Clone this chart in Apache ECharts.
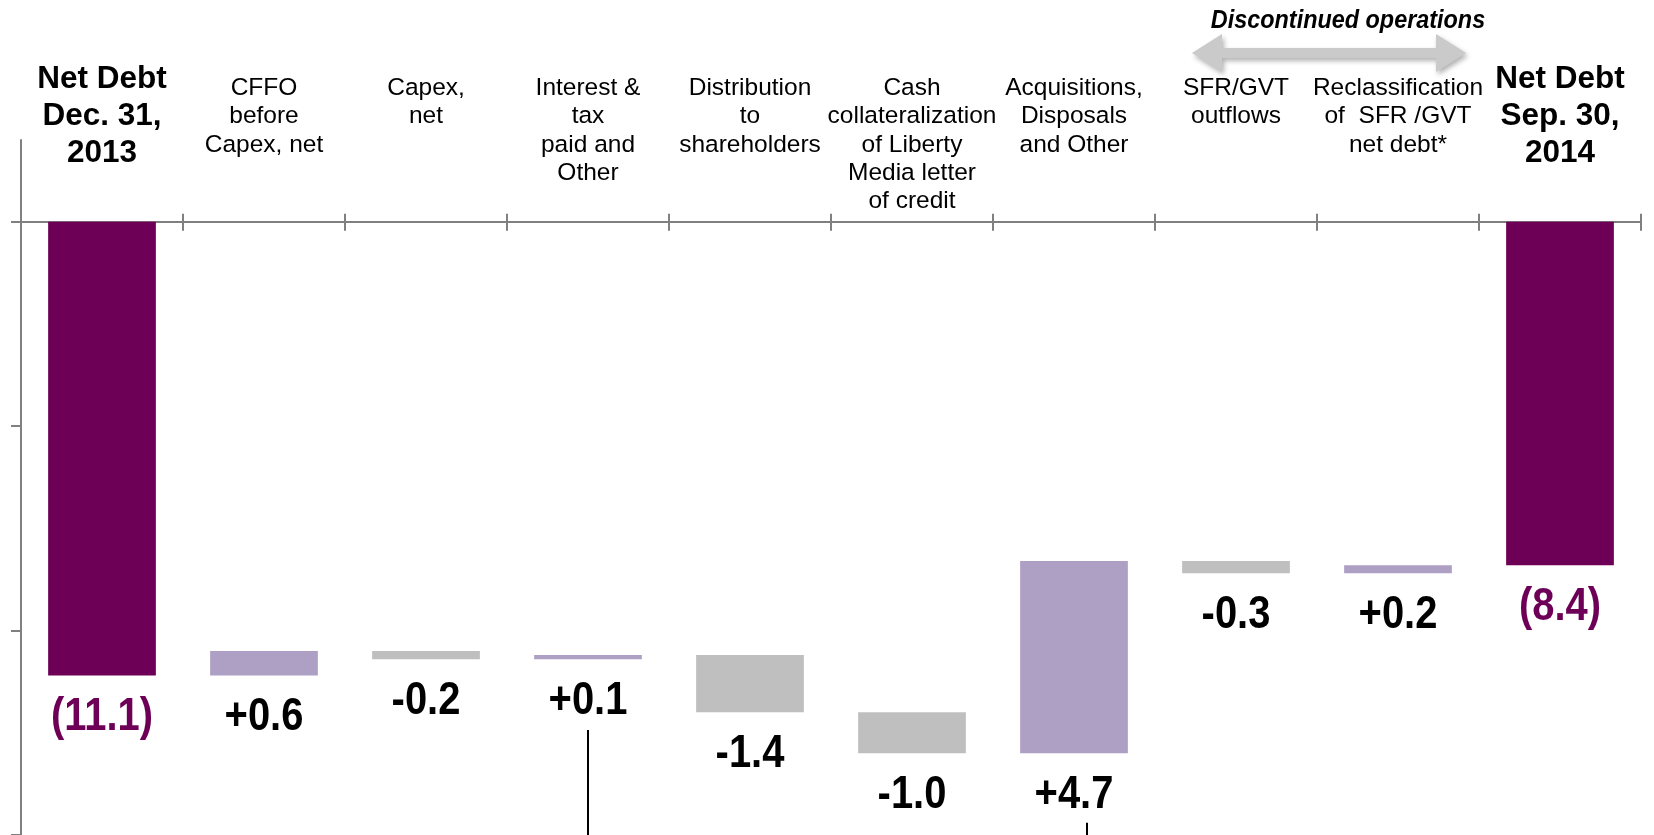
<!DOCTYPE html>
<html><head><meta charset="utf-8">
<script src="https://cdn.jsdelivr.net/npm/echarts@6/dist/echarts.min.js"></script>
<style>html,body{margin:0;padding:0;background:#fff}#c{width:1654px;height:835px}</style>
</head><body><div id="c"></div>
<script>
// ---- data ----
const categories = [
  'Net Debt\nDec. 31,\n2013',
  'CFFO\nbefore\nCapex, net',
  'Capex,\nnet',
  'Interest &\ntax\npaid and\nOther',
  'Distribution\nto\nshareholders',
  'Cash\ncollateralization\nof Liberty\nMedia letter\nof credit',
  'Acquisitions,\nDisposals\nand Other',
  'SFR/GVT\noutflows',
  'Reclassification\nof  SFR /GVT\nnet debt*',
  'Net Debt\nSep. 30,\n2014'
];
const values = [-11.1, 0.6, -0.2, 0.1, -1.4, -1.0, 4.7, -0.3, 0.2, -8.4];
const valueLabels = ['(11.1)', '+0.6', '-0.2', '+0.1', '-1.4', '-1.0', '+4.7', '-0.3', '+0.2', '(8.4)'];
const isTotal = [true, false, false, false, false, false, false, false, false, true];
const yTicks = [-15, -10, -5, 0];
const annotationTitle = 'Discontinued operations';

// ---- style ----
const FONT = '"Liberation Sans Narrow", "Arial Narrow", "Liberation Sans", Arial, sans-serif';
const C_TOTAL = '#6D0056';
const C_POS = '#AE9FC4';
const C_NEG = '#BFBFBF';
const C_AXIS = '#808080';

// waterfall ranges
const rows = [];
let running = 0;
values.forEach((v, i) => {
  let lo, hi;
  if (isTotal[i]) { lo = v; hi = 0; running = v; }
  else { const s = running; const e = running + v; lo = Math.min(s, e); hi = Math.max(s, e); running = e; }
  rows.push([i, lo, hi, valueLabels[i], isTotal[i] ? 'T' : (v >= 0 ? 'P' : 'N')]);
});

const chart = echarts.init(document.getElementById('c'), null, {renderer: 'canvas'});

const boldLabel = {fontFamily: FONT, fontWeight: 'bold', fontSize: 31.5, lineHeight: 37, color: '#000', verticalAlign: 'top', align: 'center', padding: [0, 0, 0, 0]};
const regLabel = {fontFamily: FONT, fontWeight: 'normal', fontSize: 24.5, lineHeight: 28.3, color: '#000', verticalAlign: 'top', align: 'center', padding: [13, 0, 0, 0]};

chart.setOption({
  animation: false,
  backgroundColor: '#fff',
  grid: {left: 21, right: 13, top: 140, bottom: 0, containLabel: false, outerBoundsMode: 'none'},
  xAxis: [{
    type: 'category',
    position: 'top',
    data: categories.map((c, i) => ({value: c, textStyle: isTotal[i] ? boldLabel : regLabel})),
    axisLine: {show: true, onZero: true, onZeroAxisIndex: 0, lineStyle: {color: C_AXIS, width: 2}},
    axisTick: {show: true, inside: true, length: 9, lineStyle: {color: C_AXIS, width: 2}},
    axisLabel: {interval: 0, margin: 79, verticalAlign: 'top', align: 'center', fontFamily: FONT, color: '#000', hideOverlap: false},
    splitLine: {show: false}
  }, {
    type: 'category',
    position: 'top',
    data: categories,
    axisLine: {show: false, onZero: true, onZeroAxisIndex: 1},
    axisTick: {show: true, inside: false, length: 8, lineStyle: {color: C_AXIS, width: 2}},
    axisLabel: {show: false},
    splitLine: {show: false}
  }],
  yAxis: [{
    type: 'value',
    min: -15, max: 2, interval: 5,
    axisLine: {show: true, lineStyle: {color: C_AXIS, width: 2}},
    axisTick: {show: true, inside: false, length: 10, customValues: yTicks, lineStyle: {color: C_AXIS, width: 2}},
    axisLabel: {show: false},
    splitLine: {show: false}
  }, {
    type: 'value',
    min: -15, max: 2, interval: 5,
    axisLine: {show: false},
    axisTick: {show: false},
    axisLabel: {show: false},
    splitLine: {show: false}
  }],
  series: [{
    type: 'custom',
    xAxisIndex: 0,
    yAxisIndex: 0,
    data: rows,
    encode: {x: 0, y: [1, 2]},
    renderItem: function (params, api) {
      const i = api.value(0);
      const lo = api.value(1), hi = api.value(2);
      const row = rows[params.dataIndex];
      const pTop = api.coord([i, hi]);
      const pBot = api.coord([i, lo]);
      const w = api.size([1, 0])[0] * 0.665;
      const kind = row[4];
      const fill = kind === 'T' ? C_TOTAL : (kind === 'P' ? C_POS : C_NEG);
      const yb = Math.max(pTop[1], pBot[1]);
      const yt = Math.min(pTop[1], pBot[1]);
      return {
        type: 'group',
        children: [{
          type: 'rect',
          shape: {x: pTop[0] - w / 2, y: yt, width: w, height: Math.max(yb - yt, 1)},
          style: {fill: fill}
        }, {
          type: 'text',
          x: pTop[0],
          y: yb + 18,
          scaleX: 0.85,
          style: {
            text: row[3],
            fill: kind === 'T' ? C_TOTAL : '#000',
            fontFamily: FONT, fontWeight: 'bold', fontSize: 47,
            align: 'center', verticalAlign: 'top'
          }
        }]
      };
    }
  }]
});

// annotations (header arrow & leader lines)
const cx3 = chart.convertToPixel({xAxisIndex: 0}, categories[3]);
const cx6 = chart.convertToPixel({xAxisIndex: 0}, categories[6]);
const yA = chart.convertToPixel({yAxisIndex: 0}, -12.43);
const yB = chart.convertToPixel({yAxisIndex: 0}, -14.7);
const yEnd = chart.convertToPixel({yAxisIndex: 0}, -15);
const ay = 53, axL = 1192, axR = 1466, hl = 30, hh = 19, st = 5;
chart.setOption({
  graphic: [{
    type: 'polygon',
    shape: {points: [
      [axL, ay], [axL + hl, ay - hh], [axL + hl, ay - st], [axR - hl, ay - st], [axR - hl, ay - hh],
      [axR, ay], [axR - hl, ay + hh], [axR - hl, ay + st], [axL + hl, ay + st], [axL + hl, ay + hh]
    ]},
    style: {fill: '#CACACA', shadowBlur: 5, shadowColor: 'rgba(0,0,0,0.3)', shadowOffsetX: 2, shadowOffsetY: 3}
  }, {
    type: 'text', x: 1348, y: 8, scaleX: 0.9,
    style: {text: annotationTitle, fill: '#000', fontFamily: FONT, fontWeight: 'bold', fontStyle: 'italic', fontSize: 26, align: 'center', verticalAlign: 'top'}
  }, {
    type: 'line', shape: {x1: cx3, y1: yA, x2: cx3, y2: yEnd + 2}, style: {stroke: '#000', lineWidth: 2}
  }, {
    type: 'line', shape: {x1: cx6 + 13, y1: yB, x2: cx6 + 13, y2: yEnd + 2}, style: {stroke: '#000', lineWidth: 2}
  }]
});
</script>
</body></html>
